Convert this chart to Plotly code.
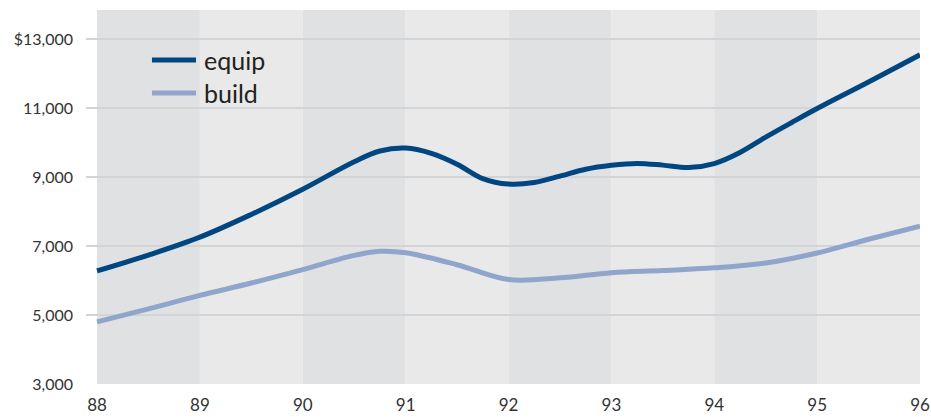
import plotly.graph_objects as go

years_equip = [88, 88.5, 89, 89.5, 90, 90.5, 90.75, 91, 91.25, 91.5, 91.75, 92, 92.25, 92.5, 92.75, 93, 93.25, 93.5, 93.75, 94, 94.25, 94.5, 94.75, 95, 95.5, 96]
equip = [6280, 6740, 7260, 7920, 8650, 9450, 9760, 9845, 9690, 9376, 8960, 8800, 8845, 9030, 9230, 9345, 9400, 9350, 9280, 9395, 9716, 10160, 10580, 10990, 11760, 12550]

years_build = [88, 88.5, 89, 89.5, 90, 90.5, 90.75, 91, 91.5, 92, 92.5, 93, 93.5, 94, 94.5, 95, 95.5, 96]
build = [4800, 5180, 5570, 5930, 6320, 6730, 6850, 6810, 6460, 6030, 6080, 6230, 6290, 6370, 6510, 6800, 7200, 7580]

x_ticks = [88, 89, 90, 91, 92, 93, 94, 95, 96]
x_labels = ["88", "89", "90", "91", "92", "93", "94", "95", "96"]
y_ticks = [3000, 5000, 7000, 9000, 11000, 13000]
y_labels = ["3,000", "5,000", "7,000", "9,000", "11,000", "$13,000"]

series_names = ["equip", "build"]
series_colors = ["#004680", "#8fa5cb"]

band_dark = "#e0e1e3"
band_light = "#e9e9e9"

fig = go.Figure()
fig.add_trace(go.Scatter(x=years_equip, y=equip, mode="lines", name="equip",
                         line=dict(color=series_colors[0], width=5, shape="spline", smoothing=1.0)))
fig.add_trace(go.Scatter(x=years_build, y=build, mode="lines", name="build",
                         line=dict(color=series_colors[1], width=5, shape="spline", smoothing=1.0)))

shapes = []
for i in range(len(x_ticks) - 1):
    shapes.append(dict(type="rect", xref="x", yref="paper", x0=x_ticks[i], x1=x_ticks[i + 1],
                       y0=0, y1=1, fillcolor=band_dark if i % 2 == 0 else band_light,
                       line=dict(width=0), layer="below"))

# custom legend
leg_y = [0.866, 0.778]
annotations = []
for name, col, yy in zip(series_names, series_colors, leg_y):
    shapes.append(dict(type="line", xref="paper", yref="paper", x0=0.0791, x1=0.1319,
                       y0=yy, y1=yy, line=dict(color=col, width=5), layer="above"))
    annotations.append(dict(xref="paper", yref="paper", x=0.1392, y=yy, text=name,
                            showarrow=False, xanchor="left", yanchor="middle",
                            font=dict(size=25, color="#222222", family="Lato")))

fig.update_layout(
    width=931, height=417,
    margin=dict(l=86, r=11, t=10, b=33, autoexpand=False),
    paper_bgcolor="white", plot_bgcolor="white",
    showlegend=False,
    shapes=shapes, annotations=annotations,
    font=dict(family="Lato", size=16, color="#333333"),
    xaxis=dict(range=[87.893, 96], tickvals=x_ticks, ticktext=x_labels, showgrid=False,
               zeroline=False, showline=False, ticks="", ticklabelstandoff=9, automargin=False,
               tickfont=dict(size=17, color="#333333")),
    yaxis=dict(range=[3000, 13850], tickvals=y_ticks, ticktext=y_labels, showgrid=True,
               gridcolor="#d3d4d6", gridwidth=2, zeroline=False, showline=False, ticks="",
               ticklabelstandoff=12, automargin=False, tickfont=dict(size=16, color="#333333")),
)

fig.write_html("out.html", config={"displayModeBar": False},
               post_script="document.body.style.margin='0px';document.body.style.overflow='hidden';")
